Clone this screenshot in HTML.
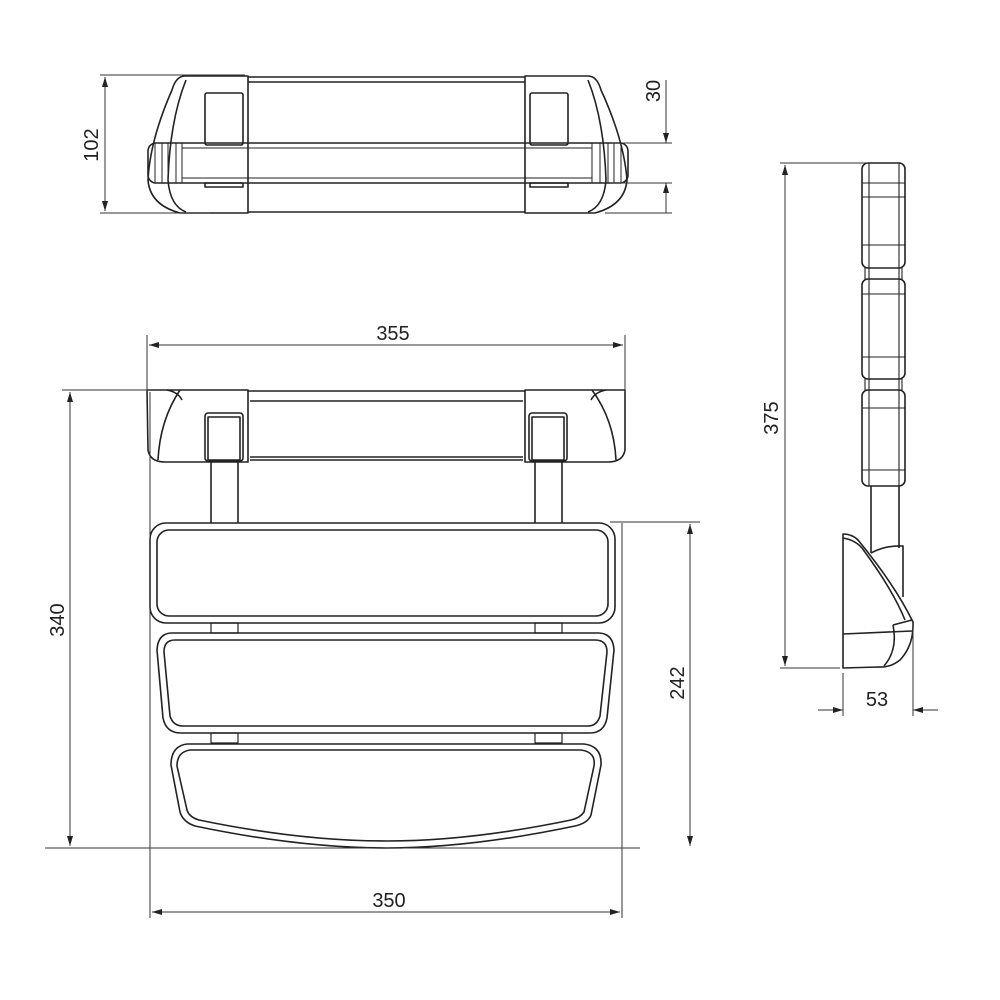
<!DOCTYPE html>
<html><head><meta charset="utf-8"><style>
html,body{margin:0;padding:0;background:#fff}
svg{display:block}
text{font-family:"Liberation Sans Narrow","Liberation Sans",sans-serif;font-size:20px;fill:#222}
</style></head><body>
<svg width="1000" height="1000" viewBox="0 0 1000 1000" xmlns="http://www.w3.org/2000/svg">
<defs>
<marker id="a" viewBox="0 0 10 6" refX="10" refY="3" markerWidth="10" markerHeight="6" orient="auto-start-reverse" markerUnits="userSpaceOnUse"><path d="M0,0L10,3L0,6z" fill="#222"/></marker>
</defs>
<g fill="none" stroke="#222" stroke-width="1.6" stroke-linejoin="round">
<!-- ===== TOP VIEW ===== -->
<path d="M248,76 H185 Q176,76 172,90 Q150,140 148,180 Q150,205 180,213 H248 Z"/>
<path d="M186,80 Q170,120 168,180 Q170,206 186,212"/>
<path d="M525,76 H588 Q597,76 601,90 Q624,140 627,180 Q625,205 595,213 H525 Z"/>
<path d="M588,80 Q604,120 606,180 Q604,206 588,212"/>
<line x1="248" y1="77" x2="525" y2="77"/>
<line x1="248" y1="82" x2="525" y2="82"/>
<line x1="248" y1="212" x2="525" y2="212"/>
<rect x="205" y="93" width="38" height="52" rx="2"/>
<rect x="530" y="93" width="38" height="52" rx="2"/>
<rect x="205" y="183" width="38" height="4"/>
<rect x="530" y="183" width="38" height="4"/>
<rect x="148" y="143" width="480" height="40" rx="8"/>
<line x1="182" y1="148" x2="592" y2="148" stroke-width="1"/>
<line x1="182" y1="178" x2="592" y2="178" stroke-width="1"/>
<g stroke-width="1">
<line x1="155" y1="143" x2="155" y2="183"/><line x1="162" y1="143" x2="162" y2="183"/><line x1="168" y1="143" x2="168" y2="183"/><line x1="176" y1="143" x2="176" y2="183"/><line x1="182" y1="143" x2="182" y2="183"/>
<line x1="621" y1="143" x2="621" y2="183"/><line x1="614" y1="143" x2="614" y2="183"/><line x1="608" y1="143" x2="608" y2="183"/><line x1="600" y1="143" x2="600" y2="183"/><line x1="592" y1="143" x2="592" y2="183"/>
</g>
<!-- ===== FRONT VIEW ===== -->
<path d="M147,390 H248 V462 H165 Q150,462 148,450 Z"/>
<path d="M180,390 Q160,420 158,460" />
<path d="M167,390 Q178,392 182,400"/>
<path d="M625,390 H525 V462 H608 Q623,462 625,450 Z"/>
<path d="M592,390 Q614,420 616,460"/>
<path d="M606,390 Q595,392 591,400"/>
<line x1="248" y1="391" x2="525" y2="391"/>
<line x1="250" y1="401" x2="523" y2="401"/>
<line x1="250" y1="457" x2="523" y2="457"/>
<line x1="250" y1="460" x2="523" y2="460"/>
<rect x="205" y="413" width="38" height="48" rx="3"/>
<rect x="208" y="417" width="32" height="43"/>
<rect x="529" y="413" width="38" height="48" rx="3"/>
<rect x="532" y="417" width="32" height="43"/>
<line x1="211" y1="460" x2="211" y2="523"/><line x1="238" y1="460" x2="238" y2="523"/>
<line x1="535" y1="460" x2="535" y2="523"/><line x1="562" y1="460" x2="562" y2="523"/>
<!-- slat 1 -->
<rect x="150" y="523" width="465" height="100" rx="16"/>
<rect x="157" y="530" width="451" height="86" rx="12"/>
<!-- connectors -->
<g stroke-width="1.2">
<rect x="211" y="623" width="27" height="10"/><rect x="535" y="623" width="27" height="10"/>
<rect x="211" y="733" width="27" height="10"/><rect x="535" y="733" width="27" height="10"/>
</g>
<!-- slat 2 -->
<path d="M172,633 H598 Q613,633 614,650 L607,718 Q604,733 590,733 H181 Q166,733 163,718 L157,650 Q158,633 172,633 Z"/>
<path d="M175,640 H595 Q607,640 607,652 L600,716 Q597,726 588,726 H183 Q173,726 170,716 L164,652 Q164,640 175,640 Z"/>
<!-- slat 3 -->
<path d="M187,744 H584 Q602,746 601,765 L591,815 Q588,823 575,826 Q470,848 387,848 Q300,848 195,826 Q183,822 180,812 L171,765 Q171,746 187,744 Z"/>
<path d="M190,750 H581 Q596,752 594,766 L584,812 Q580,818 571,820 Q470,841 387,841 Q300,841 199,820 Q189,817 187,810 L177,766 Q177,752 190,750 Z"/>
<!-- ===== SIDE VIEW ===== -->
<rect x="862" y="163" width="43" height="105" rx="6"/>
<rect x="865" y="268" width="37" height="11" stroke-width="1.1"/>
<rect x="862" y="279" width="43" height="100" rx="6"/>
<rect x="865" y="379" width="37" height="11" stroke-width="1.1"/>
<rect x="862" y="390" width="43" height="96" rx="6"/>
<g stroke-width="1.1">
<line x1="862" y1="183" x2="905" y2="183"/><line x1="862" y1="197" x2="905" y2="197"/><line x1="862" y1="245" x2="905" y2="245"/>
<line x1="862" y1="294" x2="905" y2="294"/><line x1="862" y1="357" x2="905" y2="357"/>
<line x1="862" y1="408" x2="905" y2="408"/><line x1="862" y1="470" x2="905" y2="470"/>
<line x1="869" y1="163" x2="869" y2="486"/><line x1="899" y1="163" x2="899" y2="486"/>
</g>
<line x1="871" y1="486" x2="871" y2="553"/><line x1="899" y1="486" x2="899" y2="548"/>
<path d="M871,553 Q886,545 903,546 V597"/>
<path d="M843,534 Q852,534 858,540 Q895,585 913,622 Q914,645 900,660 Q890,668 878,667 L843,668 Z"/>
<path d="M843,538 Q855,540 862,548 Q893,590 905,620"/>
<path d="M843,634 L912,631"/>
<path d="M893,625 Q898,650 884,666"/>
<path d="M893,625 L912,620"/>
</g>
<!-- ===== DIMENSIONS ===== -->
<g stroke="#333" stroke-width="1" fill="none">
<line x1="100" y1="75" x2="245" y2="75"/><line x1="100" y1="213" x2="210" y2="213"/>
<line x1="105" y1="77" x2="105" y2="211" marker-start="url(#a)" marker-end="url(#a)"/>
<line x1="612" y1="143" x2="672" y2="143"/><line x1="612" y1="183" x2="672" y2="183"/><line x1="605" y1="213" x2="672" y2="213"/>
<line x1="666" y1="80" x2="666" y2="143" marker-end="url(#a)"/><line x1="666" y1="213" x2="666" y2="183" marker-end="url(#a)"/>
<line x1="147" y1="335" x2="147" y2="392"/><line x1="625" y1="335" x2="625" y2="392"/>
<line x1="149" y1="345" x2="623" y2="345" marker-start="url(#a)" marker-end="url(#a)"/>
<line x1="62" y1="390" x2="150" y2="390"/><line x1="45" y1="848" x2="640" y2="848"/>
<line x1="70" y1="392" x2="70" y2="846" marker-start="url(#a)" marker-end="url(#a)"/>
<line x1="610" y1="522" x2="700" y2="522"/>
<line x1="690" y1="524" x2="690" y2="846" marker-start="url(#a)" marker-end="url(#a)"/>
<line x1="150" y1="392" x2="150" y2="918"/><line x1="622" y1="523" x2="622" y2="918"/>
<line x1="152" y1="912" x2="620" y2="912" marker-start="url(#a)" marker-end="url(#a)"/>
<line x1="780" y1="163" x2="868" y2="163"/><line x1="780" y1="668" x2="840" y2="668"/>
<line x1="785" y1="165" x2="785" y2="666" marker-start="url(#a)" marker-end="url(#a)"/>
<line x1="843" y1="673" x2="843" y2="716"/><line x1="913" y1="628" x2="913" y2="716"/>
<line x1="818" y1="710" x2="843" y2="710" marker-end="url(#a)"/><line x1="938" y1="710" x2="913" y2="710" marker-end="url(#a)"/>
</g>
<text x="98" y="145" text-anchor="middle" transform="rotate(-90 98 145)">102</text>
<text x="660" y="91" text-anchor="middle" transform="rotate(-90 660 91)">30</text>
<text x="393" y="340" text-anchor="middle">355</text>
<text x="64" y="620" text-anchor="middle" transform="rotate(-90 64 620)">340</text>
<text x="684" y="683" text-anchor="middle" transform="rotate(-90 684 683)">242</text>
<text x="389" y="907" text-anchor="middle">350</text>
<text x="778" y="418" text-anchor="middle" transform="rotate(-90 778 418)">375</text>
<text x="877" y="706" text-anchor="middle">53</text>
</svg>
</body></html>
